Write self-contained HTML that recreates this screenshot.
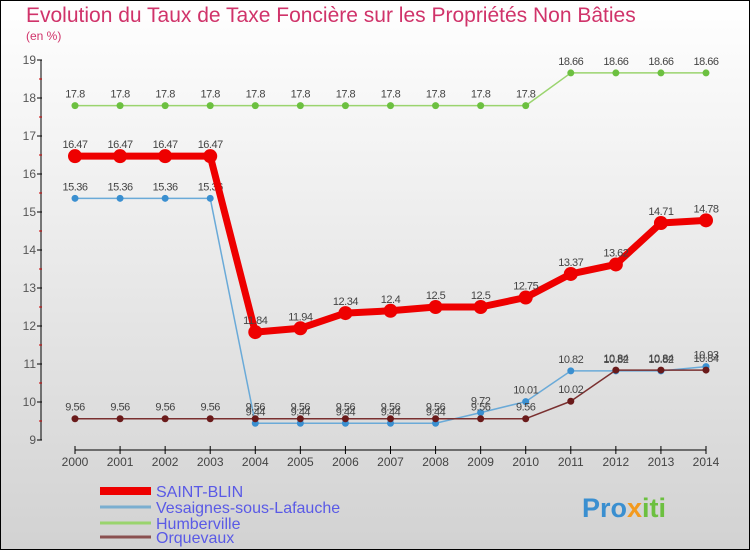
<!DOCTYPE html>
<html><head><meta charset="utf-8"><style>
body{margin:0}
#c{width:750px;height:550px;position:relative;font-family:"Liberation Sans",sans-serif;overflow:hidden}
</style></head><body>
<div id="c">
<svg id="s" width="750" height="550" xmlns="http://www.w3.org/2000/svg">
<defs><linearGradient id="bg" x1="0" y1="0" x2="0" y2="1"><stop offset="0" stop-color="#ffffff"/><stop offset="1" stop-color="#d2d2d2"/></linearGradient></defs>
<rect x="0.5" y="0.5" width="749" height="549" fill="url(#bg)" stroke="#000"/>
<text x="26" y="22" font-size="21" fill="#d0336a">Evolution du Taux de Taxe Foncière sur les Propriétés Non Bâties</text>
<text x="26" y="40" font-size="12" fill="#d0336a">(en %)</text>
<g id="axes"></g><g id="series"></g><g id="legend"></g>
<text x="582" y="517" font-size="27" font-weight="bold" fill="#3a8fd0">Pro<tspan fill="#f39a1e">x</tspan><tspan fill="#6cc040">iti</tspan></text>
</svg>
</div>
<script>
const years=[2000,2001,2002,2003,2004,2005,2006,2007,2008,2009,2010,2011,2012,2013,2014];
const yTicks=[9,10,11,12,13,14,15,16,17,18,19];
const saintBlin=[16.47,16.47,16.47,16.47,11.84,11.94,12.34,12.4,12.5,12.5,12.75,13.37,13.62,14.71,14.78];
const vesaignes=[15.36,15.36,15.36,15.36,9.44,9.44,9.44,9.44,9.44,9.72,10.01,10.82,10.82,10.82,10.93];
const humberville=[17.8,17.8,17.8,17.8,17.8,17.8,17.8,17.8,17.8,17.8,17.8,18.66,18.66,18.66,18.66];
const orquevaux=[9.56,9.56,9.56,9.56,9.56,9.56,9.56,9.56,9.56,9.56,9.56,10.02,10.84,10.84,10.84];
const seriesNames=["SAINT-BLIN","Vesaignes-sous-Lafauche","Humberville","Orquevaux"];
const NS="http://www.w3.org/2000/svg";
const X=i=>75+i*(706-75)/(years.length-1);
const Y=v=>440-(v-9)*38;
function mk(p,t,a){const e=document.createElementNS(NS,t);for(const k in a)e.setAttribute(k,a[k]);p.appendChild(e);return e;}
const ax=document.getElementById('axes');
let l=mk(ax,'line',{x1:41,y1:60,x2:41,y2:440,stroke:'#000'});


l=mk(ax,'line',{x1:75,y1:450,x2:706,y2:450,stroke:'#000'});


yTicks.forEach(v=>{
 const t=mk(ax,'text',{x:36,y:Y(v)+4,'font-size':12,'text-anchor':'end',fill:'#555'});t.textContent=v;
 
 
 mk(ax,'line',{x1:37,y1:Y(v),x2:42,y2:Y(v),stroke:'#000'});
 if(v<19)mk(ax,'line',{x1:39,y1:Y(v+0.5),x2:42,y2:Y(v+0.5),stroke:'#c00'});
});
years.forEach((yr,i)=>{
 mk(ax,'line',{x1:X(i),y1:446,x2:X(i),y2:454,stroke:'#000'});
 const t=mk(ax,'text',{x:X(i),y:466,'font-size':12,'text-anchor':'middle',fill:'#444'});t.textContent=yr;
 
 
});
const sg=document.getElementById('series');
function draw(data,col,dot,w,r,name,lblCol){
 const g=mk(sg,'g',{});
 
 
 mk(g,'polyline',{points:data.map((v,i)=>X(i)+','+Y(v)).join(' '),fill:'none',stroke:col,'stroke-width':w,'stroke-linejoin':'round'});
 data.forEach((v,i)=>{
  const c=mk(g,'circle',{cx:X(i),cy:Y(v),r:r,fill:dot});
  
  
  const t=mk(g,'text',{x:X(i),y:Y(v)-8,'font-size':11,'text-anchor':'middle',fill:'#444','letter-spacing':'-0.5'});t.textContent=v;
  
  
 });
}
draw(humberville,'#9ad46e','#6cc040',1.5,3.5,'series-humberville');
draw(vesaignes,'#6aaad8','#3a8fd0',1.5,3.5,'series-vesaignes');
draw(orquevaux,'#7a3030','#6a1a1a',1.5,3.5,'series-orquevaux');
draw(saintBlin,'#ee0000','#ee0000',7,7,'series-saint-blin');
const lg=document.getElementById('legend');
const cols=['#ee0000','#7aaed0','#9ad46e','#8a5050'],ws=[8,3,3,3],ly=[491,507,523,537];
seriesNames.forEach((n,i)=>{
 const g=mk(lg,'g',{});
 
 
 mk(g,'line',{x1:100,y1:ly[i],x2:151,y2:ly[i],stroke:cols[i],'stroke-width':ws[i]});
 const t=mk(g,'text',{x:156,y:ly[i]+6,'font-size':16,fill:'#5a5ae6'});t.textContent=n;
});
</script>
</body></html>
